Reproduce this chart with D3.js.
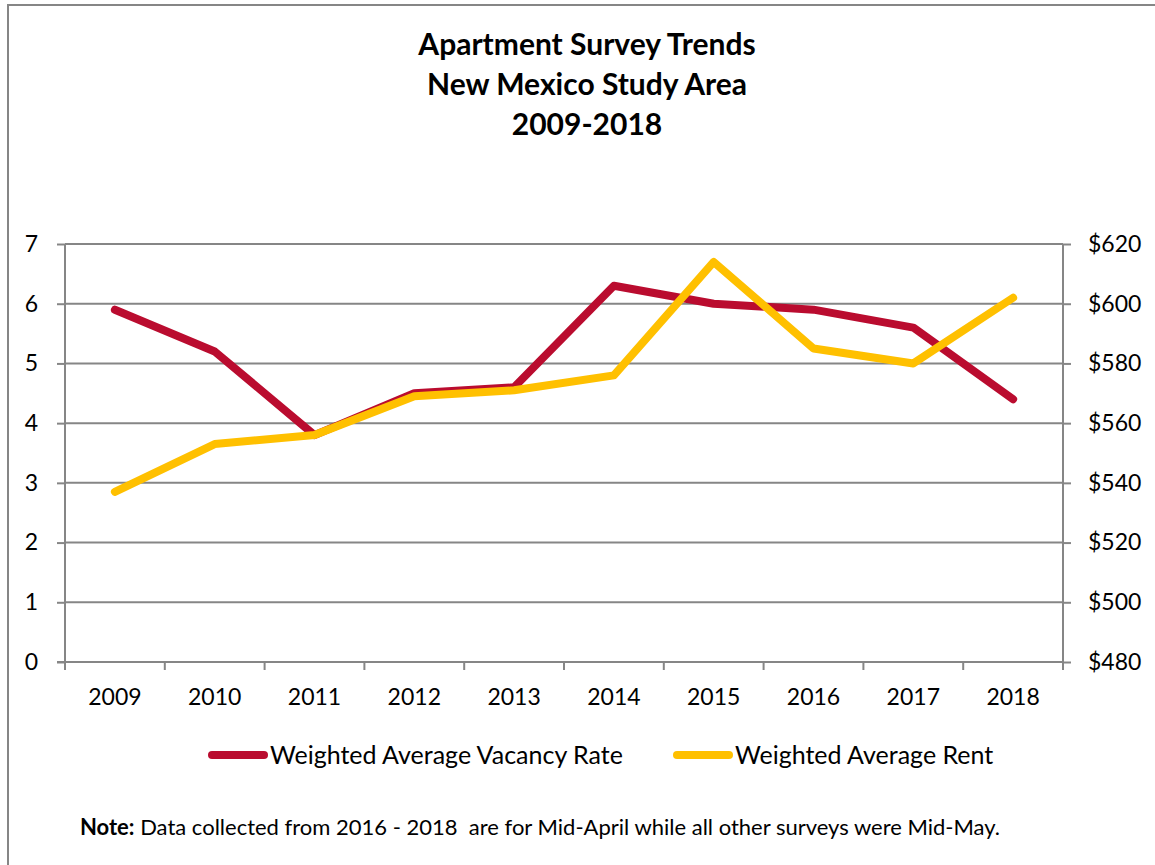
<!DOCTYPE html>
<html>
<head>
<meta charset="utf-8">
<script src="https://cdn.jsdelivr.net/npm/d3@7"></script>
<style>
  body { margin: 0; background: #fff; }
  text { font-family: Lato, "Open Sans", sans-serif; fill: #000; }
</style>
</head>
<body>
<div id="chart"></div>
<script>
const years = ["2009", "2010", "2011", "2012", "2013", "2014", "2015", "2016", "2017", "2018"];
const vacancy = [5.9, 5.2, 3.8, 4.5, 4.6, 6.3, 6.0, 5.9, 5.6, 4.4];
const rent = [537, 553, 556, 569, 571, 576, 614, 585, 580, 602];
const vacancyTicks = [0, 1, 2, 3, 4, 5, 6, 7];
const rentTicks = [480, 500, 520, 540, 560, 580, 600, 620];
const titleLines = ["Apartment Survey Trends", "New Mexico Study Area", "2009-2018"];

const width = 1155, height = 865;
const svg = d3.select("#chart").append("svg")
  .attr("width", width)
  .attr("height", height);

// outer border
svg.append("rect")
  .attr("x", 8).attr("y", 5)
  .attr("width", 1160).attr("height", 880)
  .attr("fill", "none").attr("stroke", "#868686").attr("stroke-width", 2);

const plot = { left: 65, right: 1063, top: 244, bottom: 662 };

const x = d3.scaleBand().domain(years).range([plot.left, plot.right]);
const yL = d3.scaleLinear().domain([0, 7]).range([plot.bottom, plot.top]);
const yR = d3.scaleLinear().domain([480, 620]).range([plot.bottom, plot.top]);

// title
svg.append("g").selectAll("text")
  .data(titleLines)
  .join("text")
  .attr("x", 587).attr("y", (d, i) => 55 + i * 40)
  .attr("text-anchor", "middle")
  .attr("font-size", 30).attr("font-weight", "bold")
  .text(d => d);

// gridlines
svg.append("g").selectAll("line")
  .data(vacancyTicks.slice(1))
  .join("line")
  .attr("x1", plot.left).attr("x2", plot.right)
  .attr("y1", d => yL(d)).attr("y2", d => yL(d))
  .attr("stroke", "#868686").attr("stroke-width", 2);

// axes
const axisLeft = svg.append("g")
  .attr("transform", `translate(${plot.left},0)`)
  .call(d3.axisLeft(yL).tickValues(vacancyTicks).tickSize(8).tickPadding(19)
    .tickFormat(d3.format("d")));

const axisRight = svg.append("g")
  .attr("transform", `translate(${plot.right},0)`)
  .call(d3.axisRight(yR).tickValues(rentTicks).tickSize(8).tickPadding(17)
    .tickFormat(d => "$" + d));

const axisBottom = svg.append("g")
  .attr("transform", `translate(0,${plot.bottom})`)
  .call(d3.axisBottom(x).tickSize(0).tickPadding(27));

// bottom tick marks at band edges
axisBottom.selectAll(".edge")
  .data(years.map(d => x(d)).concat([plot.right]))
  .join("line")
  .attr("class", "edge")
  .attr("x1", d => d).attr("x2", d => d)
  .attr("y1", 0).attr("y2", 8)
  .attr("stroke", "#868686").attr("stroke-width", 2);

[axisLeft, axisRight, axisBottom].forEach(g => {
  g.select(".domain").attr("stroke", "#868686").attr("stroke-width", 2);
  g.selectAll(".tick line").attr("stroke", "#868686").attr("stroke-width", 2);
  g.selectAll(".tick text").attr("font-size", 23).attr("font-family", "Lato, sans-serif").attr("fill", "#000");
});
axisLeft.select(".domain").attr("d", `M0,${plot.top}V${plot.bottom}`);
axisRight.select(".domain").attr("d", `M0,${plot.top}V${plot.bottom + 8}`);
axisBottom.select(".domain").attr("d", `M${plot.left - 8},0H${plot.right}`);

// lines
const cx = d => x(d) + x.bandwidth() / 2;

const lineVac = d3.line().x((d, i) => cx(years[i])).y(d => yL(d));
const lineRent = d3.line().x((d, i) => cx(years[i])).y(d => yR(d));

svg.append("path")
  .datum(vacancy)
  .attr("d", lineVac)
  .attr("fill", "none").attr("stroke", "#BA0C2F")
  .attr("stroke-width", 8).attr("stroke-linecap", "round").attr("stroke-linejoin", "round");

svg.append("path")
  .datum(rent)
  .attr("d", lineRent)
  .attr("fill", "none").attr("stroke", "#FFC000")
  .attr("stroke-width", 8).attr("stroke-linecap", "round").attr("stroke-linejoin", "round");

// legend
const legend = [
  { name: "Weighted Average Vacancy Rate", color: "#BA0C2F", x: 212 },
  { name: "Weighted Average Rent", color: "#FFC000", x: 677 }
];
const lg = svg.append("g").selectAll("g")
  .data(legend)
  .join("g")
  .attr("transform", d => `translate(${d.x},755)`);
lg.append("line")
  .attr("x1", 0).attr("x2", 52)
  .attr("stroke", d => d.color).attr("stroke-width", 8).attr("stroke-linecap", "round");
lg.append("text")
  .attr("x", 58).attr("dy", "0.35em")
  .attr("font-size", 25)
  .text(d => d.name);

// note
const note = svg.append("text")
  .attr("x", 80).attr("y", 835)
  .attr("font-size", 22)
  .style("white-space", "pre");
note.append("tspan").attr("font-weight", "bold").text("Note:");
note.append("tspan").text(" Data collected from 2016 - 2018  are for Mid-April while all other surveys were Mid-May.");
</script>
</body>
</html>
